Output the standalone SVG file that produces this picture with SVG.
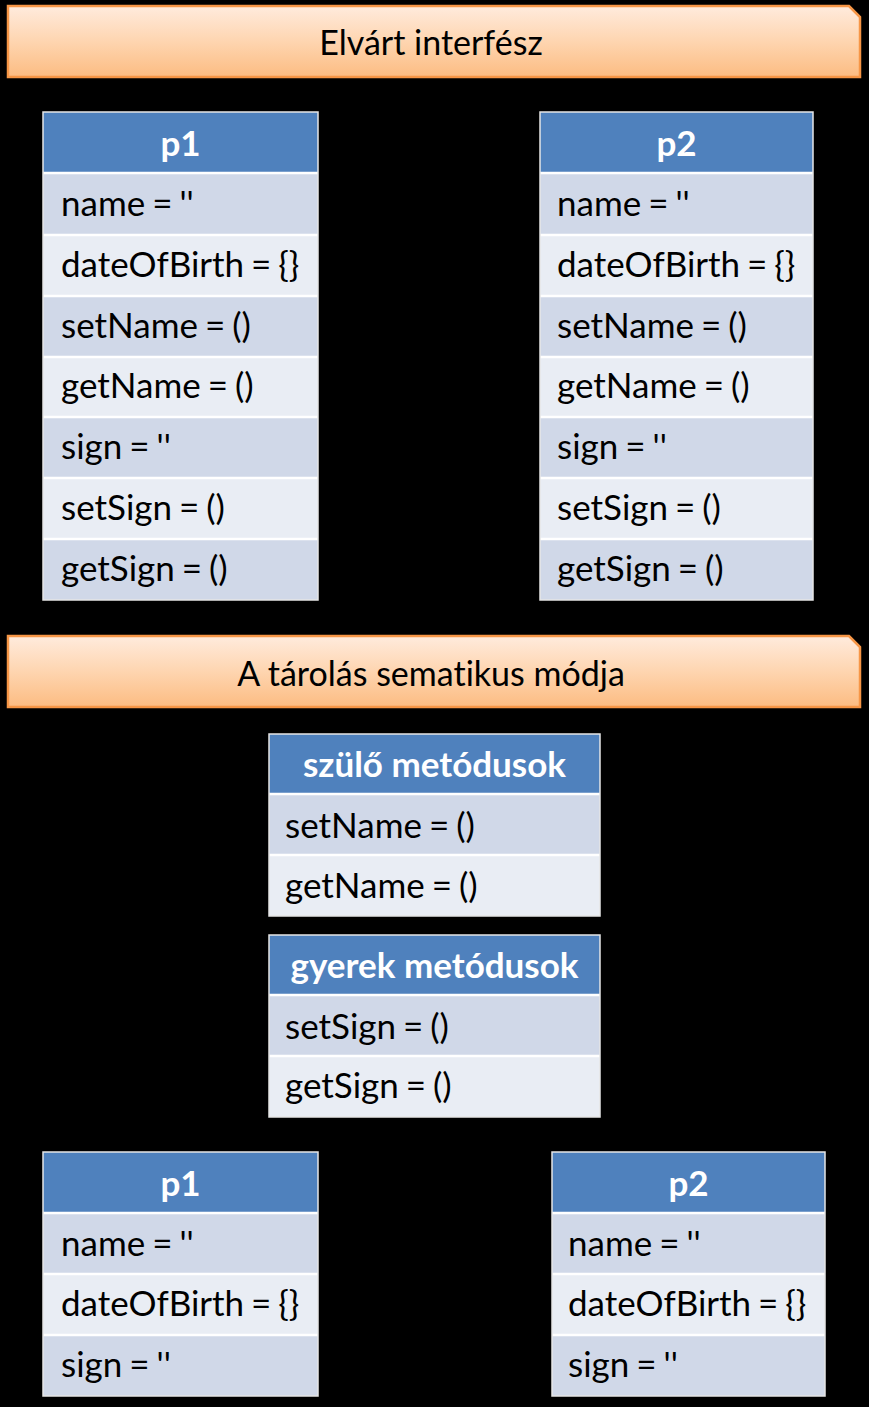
<svg xmlns="http://www.w3.org/2000/svg" width="869" height="1407" viewBox="0 0 869 1407">
<defs>
<linearGradient id="bannerGrad" x1="0" y1="0" x2="0" y2="1">
<stop offset="0" stop-color="#FFEBDD"/>
<stop offset="0.5" stop-color="#FED5B0"/>
<stop offset="1" stop-color="#FCBC82"/>
</linearGradient>
</defs>
<style>
text{font-variant-ligatures:none;font-family:Lato,"Liberation Sans",sans-serif}
.banner{fill:url(#bannerGrad);stroke:#F79646;stroke-width:2.5}
.btxt{font-size:34px;fill:#000;text-anchor:middle}
.hdr{fill:#4F81BD}
.odd{fill:#D0D8E8}
.even{fill:#E9EDF4}
.sep{stroke:#FFFFFF;stroke-width:2.5}
.frame{fill:none;stroke:#E6E6E6;stroke-width:1.5}
.htxt{font-size:35px;font-weight:bold;fill:#FFFFFF;text-anchor:middle}
.ctxt{font-size:35px;fill:#000;word-spacing:-2px}
</style>
<rect x="0" y="0" width="869" height="1407" fill="#000000"/>

<g id="banner1">
<path class="banner" d="M8,6 H849 L860,17 V77 H8 Z"/>
<text class="btxt" x="431" y="55">Elvárt interfész</text>
</g>

<g id="table-p1-top">
<rect class="hdr" x="43" y="112" width="275" height="61"/>
<rect class="odd" x="43" y="173" width="275" height="62"/>
<rect class="even" x="43" y="235" width="275" height="61"/>
<rect class="odd" x="43" y="296" width="275" height="61"/>
<rect class="even" x="43" y="357" width="275" height="60"/>
<rect class="odd" x="43" y="417" width="275" height="61"/>
<rect class="even" x="43" y="478" width="275" height="61"/>
<rect class="odd" x="43" y="539" width="275" height="61"/>
<path class="sep" d="M43,173H318M43,235H318M43,296H318M43,357H318M43,417H318M43,478H318M43,539H318"/>
<rect class="frame" x="43" y="112" width="275" height="488"/>
<text class="htxt" x="180.5" y="156">p1</text>
<text class="ctxt" x="61" y="216">name = ''</text>
<text class="ctxt" x="61" y="277">dateOfBirth = {}</text>
<text class="ctxt" x="61" y="338">setName = ()</text>
<text class="ctxt" x="61" y="398">getName = ()</text>
<text class="ctxt" x="61" y="459">sign = ''</text>
<text class="ctxt" x="61" y="520">setSign = ()</text>
<text class="ctxt" x="61" y="581">getSign = ()</text>
</g>

<g id="table-p2-top">
<rect class="hdr" x="540" y="112" width="273" height="61"/>
<rect class="odd" x="540" y="173" width="273" height="62"/>
<rect class="even" x="540" y="235" width="273" height="61"/>
<rect class="odd" x="540" y="296" width="273" height="61"/>
<rect class="even" x="540" y="357" width="273" height="60"/>
<rect class="odd" x="540" y="417" width="273" height="61"/>
<rect class="even" x="540" y="478" width="273" height="61"/>
<rect class="odd" x="540" y="539" width="273" height="61"/>
<path class="sep" d="M540,173H813M540,235H813M540,296H813M540,357H813M540,417H813M540,478H813M540,539H813"/>
<rect class="frame" x="540" y="112" width="273" height="488"/>
<text class="htxt" x="676.5" y="156">p2</text>
<text class="ctxt" x="557" y="216">name = ''</text>
<text class="ctxt" x="557" y="277">dateOfBirth = {}</text>
<text class="ctxt" x="557" y="338">setName = ()</text>
<text class="ctxt" x="557" y="398">getName = ()</text>
<text class="ctxt" x="557" y="459">sign = ''</text>
<text class="ctxt" x="557" y="520">setSign = ()</text>
<text class="ctxt" x="557" y="581">getSign = ()</text>
</g>

<g id="banner2">
<path class="banner" d="M8,636 H849 L860,647 V707 H8 Z"/>
<text class="btxt" x="431" y="686">A tárolás sematikus módja</text>
</g>

<g id="table-szulo">
<rect class="hdr" x="269" y="734" width="331" height="60"/>
<rect class="odd" x="269" y="794" width="331" height="61"/>
<rect class="even" x="269" y="855" width="331" height="61"/>
<path class="sep" d="M269,794H600M269,855H600"/>
<rect class="frame" x="269" y="734" width="331" height="182"/>
<text class="htxt" x="434.5" y="777">szülő metódusok</text>
<text class="ctxt" x="285" y="838">setName = ()</text>
<text class="ctxt" x="285" y="898">getName = ()</text>
</g>

<g id="table-gyerek">
<rect class="hdr" x="269" y="935" width="331" height="60"/>
<rect class="odd" x="269" y="995" width="331" height="61"/>
<rect class="even" x="269" y="1056" width="331" height="61"/>
<path class="sep" d="M269,995H600M269,1056H600"/>
<rect class="frame" x="269" y="935" width="331" height="182"/>
<text class="htxt" x="434.5" y="978">gyerek metódusok</text>
<text class="ctxt" x="285" y="1039">setSign = ()</text>
<text class="ctxt" x="285" y="1098">getSign = ()</text>
</g>

<g id="table-p1-bottom">
<rect class="hdr" x="43" y="1152" width="275" height="61"/>
<rect class="odd" x="43" y="1213" width="275" height="61"/>
<rect class="even" x="43" y="1274" width="275" height="61"/>
<rect class="odd" x="43" y="1335" width="275" height="61"/>
<path class="sep" d="M43,1213H318M43,1274H318M43,1335H318"/>
<rect class="frame" x="43" y="1152" width="275" height="244"/>
<text class="htxt" x="180.5" y="1196">p1</text>
<text class="ctxt" x="61" y="1256">name = ''</text>
<text class="ctxt" x="61" y="1316">dateOfBirth = {}</text>
<text class="ctxt" x="61" y="1377">sign = ''</text>
</g>

<g id="table-p2-bottom">
<rect class="hdr" x="552" y="1152" width="273" height="61"/>
<rect class="odd" x="552" y="1213" width="273" height="61"/>
<rect class="even" x="552" y="1274" width="273" height="61"/>
<rect class="odd" x="552" y="1335" width="273" height="61"/>
<path class="sep" d="M552,1213H825M552,1274H825M552,1335H825"/>
<rect class="frame" x="552" y="1152" width="273" height="244"/>
<text class="htxt" x="688.5" y="1196">p2</text>
<text class="ctxt" x="568" y="1256">name = ''</text>
<text class="ctxt" x="568" y="1316">dateOfBirth = {}</text>
<text class="ctxt" x="568" y="1377">sign = ''</text>
</g>

<g id="connectors"/>
</svg>
